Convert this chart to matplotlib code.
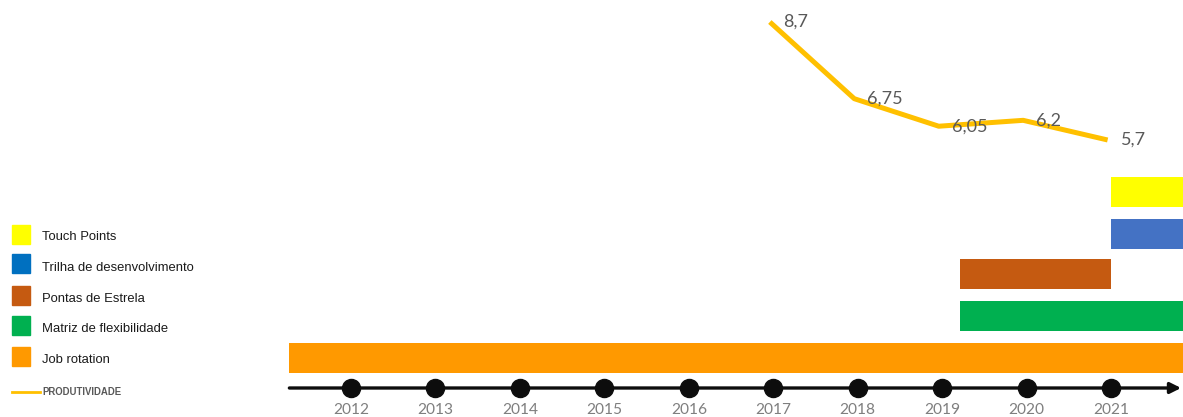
import matplotlib.pyplot as plt
from matplotlib.patches import Rectangle

# timeline
years = [2012, 2013, 2014, 2015, 2016, 2017, 2018, 2019, 2020, 2021]

# productivity series
prod_years = [2017, 2018, 2019, 2020, 2021]
prod_values = [8.7, 6.75, 6.05, 6.2, 5.7]
prod_labels = ["8,7", "6,75", "6,05", "6,2", "5,7"]

# initiatives (start, end in years)
initiatives = ["Job rotation", "Matriz de flexibilidade", "Pontas de Estrela",
               "Trilha de desenvolvimento", "Touch Points"]
starts = [2011.27, 2019.21, 2019.21, 2021.0, 2021.0]
ends = [2021.86, 2021.86, 2021.0, 2021.86, 2021.86]
bar_colors = ["#FF9900", "#00B050", "#C55A11", "#4472C4", "#FFFF00"]
legend_colors = ["#FF9900", "#00B050", "#C55A11", "#0070C0", "#FFFF00"]

W, H = 1183, 417
fig = plt.figure(figsize=(W / 100, H / 100), dpi=100)
ax = fig.add_axes([0, 0, 1, 1])
px_per_year = (1111 - 351) / 9
ax.set_xlim(2012 - 351 / px_per_year, 2012 + (W - 351) / px_per_year)
ax.set_ylim(H, 0)
ax.axis("off")

# bars, one lane each
lanes = [358, 316, 274, 233.5, 192]
for s, e, c, y in zip(starts, ends, bar_colors, lanes):
    ax.barh(y, e - s, left=s, height=30, color=c, edgecolor="none")

# time axis with arrow
ax.annotate("", xy=(2021.83, 388), xytext=(2011.27, 388),
            arrowprops=dict(arrowstyle="-|>", color="#0D0D0D", lw=2.4,
                            mutation_scale=16, shrinkA=0, shrinkB=0))
ax.plot(years, [388] * len(years), "o", color="#0D0D0D", markersize=13)
for yr in years:
    ax.text(yr, 410, str(yr), ha="center", va="center", fontsize=11.2,
            color="#7F7F7F", family="Lato")

# productivity line on its own scale
ax2 = fig.add_axes([0, 0, 1, 1], sharex=ax)
ax2.set_ylim(8.7 - (H - 22) / 39.33, 8.7 + 22 / 39.33)
ax2.axis("off")
ax2.patch.set_visible(False)
px = [y - 0.04 for y in prod_years]
ax2.plot(px, prod_values, color="#FFC000", lw=3.6, solid_capstyle="butt")
for x, v, lab in zip(px, prod_values, prod_labels):
    ax2.annotate(lab, (x, v), xytext=(13, 0), textcoords="offset pixels",
                 ha="left", va="center", fontsize=13, color="#595959",
                 family="Lato")

# legend drawn by hand, top to bottom
box_y = [234, 263.5, 295, 325.5, 356.5]
text_y = [237, 268, 299, 329, 360]
for name, c, by, ty in zip(initiatives[::-1], legend_colors[::-1], box_y, text_y):
    fig.patches.append(Rectangle((12 / W, 1 - (by + 9.5) / H), 18 / W, 19 / H,
                                 transform=fig.transFigure, color=c))
    fig.text(42 / W, 1 - ty / H, name, ha="left", va="center", fontsize=9.4,
             color="#1A1A1A", family="Liberation Sans")
fig.lines.append(plt.Line2D([12 / W, 40 / W], [1 - 392 / H] * 2,
                            transform=fig.transFigure, color="#FFC000", lw=2))
fig.text(42 / W, 1 - 392 / H, "PRODUTIVIDADE", ha="left", va="center",
         fontsize=6.9, color="#595959", family="Liberation Sans",
         fontweight="bold")

fig.savefig("out.png", dpi=100)
